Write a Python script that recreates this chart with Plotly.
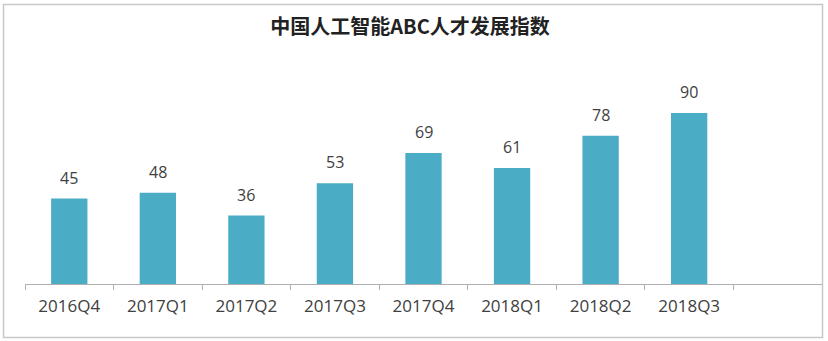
import plotly.graph_objects as go

categories = ["2016Q4", "2017Q1", "2017Q2", "2017Q3", "2017Q4", "2018Q1", "2018Q2", "2018Q3"]
values = [45, 48, 36, 53, 69, 61, 78, 90]
title_text = "中国人工智能ABC人才发展指数"

W, H = 828, 341
L, R, T, B = 25, 6, 60, 57
plot_w = W - L - R
plot_h = H - T - B

bar_color = "#4BACC6"
text_color = "#404040"

fig = go.Figure()
fig.add_trace(go.Bar(
    x=categories, y=values,
    marker=dict(color=bar_color, line=dict(width=0)),
    width=0.41,
    hoverinfo="x+y",
))

for c, v in zip(categories, values):
    fig.add_annotation(
        x=c, y=v, text=str(v), showarrow=False,
        yanchor="bottom", yshift=8,
        font=dict(family="Open Sans, Noto Sans, sans-serif", size=16, color=text_color),
    )

def px_x(p):
    return (p - L) / plot_w

def px_y(p):
    return (H - B - p) / plot_h

# outer frame
fig.add_shape(
    type="rect", xref="paper", yref="paper",
    x0=px_x(3.5), x1=px_x(822.5), y0=px_y(337.5), y1=px_y(4.5),
    line=dict(color="#c8c8c8", width=1.5), fillcolor="rgba(0,0,0,0)",
    layer="below",
)

fig.update_layout(
    width=W, height=H,
    margin=dict(l=L, r=R, t=T, b=B),
    paper_bgcolor="white", plot_bgcolor="white",
    showlegend=False,
    title=dict(
        text="<b>" + title_text + "</b>",
        x=(W / 2 - 4) / W, xanchor="center",
        y=1 - 27 / H, yanchor="middle",
        font=dict(family="Noto Sans CJK SC, sans-serif", size=20, color="#222222"),
    ),
    xaxis=dict(
        type="category",
        categoryorder="array", categoryarray=categories,
        range=[-0.5, 8.5],
        showline=True, linecolor="#b0b0b0", linewidth=1,
        ticks="outside", tickson="boundaries", ticklen=5, tickcolor="#b0b0b0",
        ticklabelstandoff=7,
        tickfont=dict(family="Open Sans, Noto Sans, sans-serif", size=17, color=text_color),
        showgrid=False, zeroline=False,
    ),
    yaxis=dict(
        range=[0, plot_h / 1.9],
        visible=False, showgrid=False, zeroline=False,
    ),
    bargap=0.59,
)

fig.write_html("out.html")
